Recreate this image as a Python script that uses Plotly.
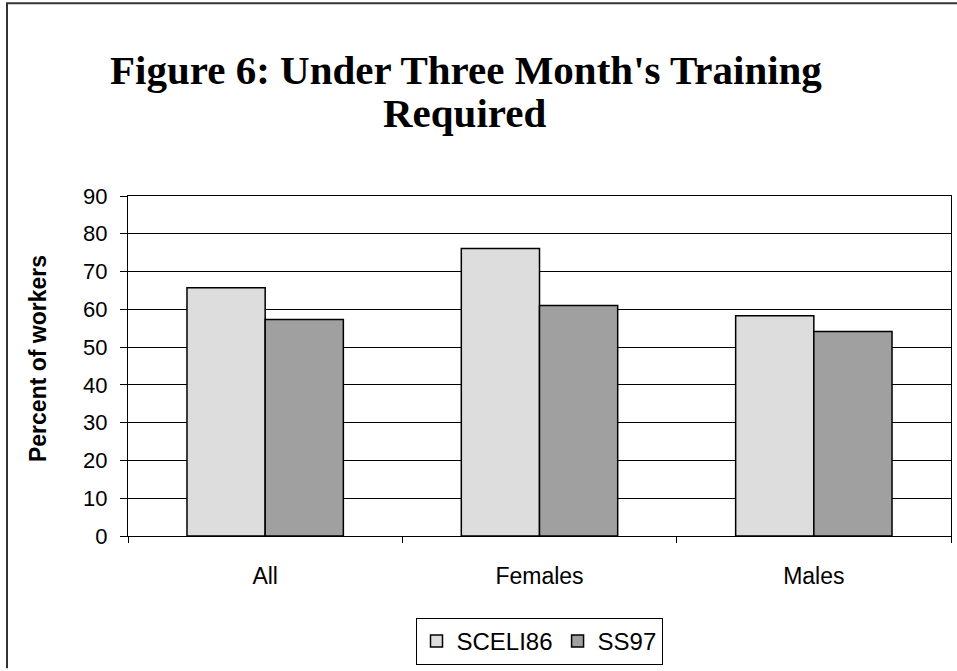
import plotly.graph_objects as go

categories = ["All", "Females", "Males"]
sceli86 = [65.7, 76.1, 58.3]
ss97 = [57.3, 61.0, 54.1]
y_ticks = [0, 10, 20, 30, 40, 50, 60, 70, 80, 90]
title_lines = ["Figure 6: Under Three Month's Training", "Required"]

W, H = 957, 671
L, R, T, B = 128, 6, 196, 133
pw, ph = W - L - R, H - T - B

def px_x(x):
    return (x - L) / pw

def px_y(y):
    return 1 - (y - T) / ph

fig = go.Figure()
fig.add_trace(go.Bar(name="SCELI86", x=categories, y=sceli86,
                     marker=dict(color="#DDDDDD", line=dict(color="black", width=1.5))))
fig.add_trace(go.Bar(name="SS97", x=categories, y=ss97,
                     marker=dict(color="#A0A0A0", line=dict(color="black", width=1.5))))

title_font = dict(family="Liberation Serif, Times New Roman, serif", size=41, color="black")
annotations = [
    dict(text="<b>" + title_lines[0] + "</b>", xref="paper", yref="paper",
         x=px_x(466), y=px_y(69), xanchor="center", yanchor="middle",
         showarrow=False, font=title_font),
    dict(text="<b>" + title_lines[1] + "</b>", xref="paper", yref="paper",
         x=px_x(464), y=px_y(113), xanchor="center", yanchor="middle",
         showarrow=False, font=title_font),
    dict(text="<b>Percent of workers</b>", xref="paper", yref="paper",
         x=px_x(38), y=px_y(360), xanchor="center", yanchor="middle",
         textangle=-90, showarrow=False, font=dict(size=23, color="black")),
]

fig.update_layout(
    width=W, height=H,
    margin=dict(l=L, r=R, t=T, b=B),
    paper_bgcolor="white", plot_bgcolor="white",
    barmode="group", bargap=0.43, bargroupgap=0,
    font=dict(family="Arial, Liberation Sans, sans-serif", size=22, color="black"),
    showlegend=True,
    legend=dict(orientation="h", x=px_x(539), xanchor="center", y=px_y(644), yanchor="middle",
                bordercolor="black", borderwidth=1, bgcolor="white",
                font=dict(size=24), traceorder="normal", itemwidth=30),
    xaxis=dict(type="category", tickson="boundaries", ticks="outside", ticklen=6,
               tickcolor="black", showline=True, linecolor="black", linewidth=1,
               mirror=True, showgrid=False, tickfont=dict(size=23), ticklabelstandoff=19),
    yaxis=dict(range=[0, 90], tickvals=y_ticks, ticks="outside", ticklen=7, tickcolor="black",
               showline=True, linecolor="black", linewidth=1, mirror=True,
               showgrid=True, gridcolor="black", gridwidth=1, zeroline=False,
               tickfont=dict(size=22), ticklabelstandoff=8),
    annotations=annotations,
    shapes=[
        dict(type="line", xref="paper", yref="paper", x0=px_x(6), x1=px_x(957),
             y0=px_y(2), y1=px_y(2), line=dict(color="#333333", width=2)),
        dict(type="line", xref="paper", yref="paper", x0=px_x(7), x1=px_x(7),
             y0=px_y(2), y1=px_y(671), line=dict(color="#333333", width=2)),
    ],
)

fig.write_html("out.html", config={"displayModeBar": False},
               post_script="document.body.style.margin='0';")
